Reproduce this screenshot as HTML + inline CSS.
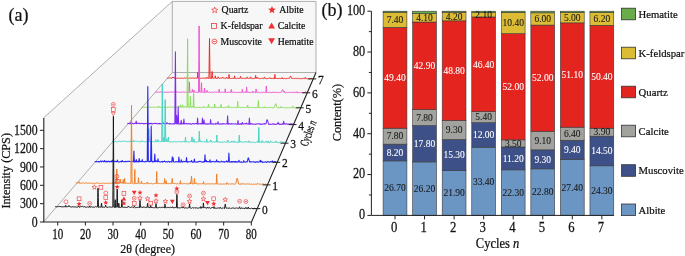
<!DOCTYPE html>
<html><head><meta charset="utf-8"><style>
html,body{margin:0;padding:0;background:#fff;width:685px;height:256px;overflow:hidden}
svg{display:block;will-change:transform} text{stroke:#111;stroke-width:0.22px} text[fill="#ffffff"]{stroke:#fff;stroke-width:0.1px} .bl text{stroke-width:0.08px}
</style></head><body><svg width="685" height="256" viewBox="0 0 685 256"><polygon points="43.5,118 172.3,1.4 316,1.4 316,72.5 251.5,221.9 43.5,221.9" fill="#f7f7f7"/>
<path d="M43.5,118 L172.3,1.4 H316 V72.5 H172.3 V1.4 M172.3,72.5 L43.8,221.6" fill="none" stroke="#8e8e8e" stroke-width="0.7"/>
<polyline points="167.00,78.08 167.55,78.31 168.10,78.11 168.65,77.95 169.20,78.17 169.75,77.91 170.30,77.91 170.85,78.21 171.40,78.36 171.95,78.19 172.50,76.92 173.05,77.90 173.60,77.03 174.15,78.09 174.70,78.14 175.25,78.13 175.80,78.11 176.35,78.38 176.90,78.30 177.45,78.04 178.00,78.03 178.55,78.27 179.10,78.31 179.65,78.37 180.20,77.90 180.75,78.35 181.30,78.39 181.85,77.94 182.40,78.29 182.95,77.95 183.50,78.39 184.05,77.97 184.60,77.96 185.15,78.31 185.70,78.19 186.25,78.01 186.80,77.98 187.35,77.98 187.90,78.03 188.45,78.41 189.00,78.08 189.55,78.03 190.10,78.36 190.65,77.98 191.20,78.04 191.75,78.32 192.30,78.09 192.85,77.98 193.40,78.06 193.95,78.13 194.50,78.42 195.05,78.23 195.60,78.04 196.15,78.40 196.70,78.08 197.25,78.32 197.35,78.05 197.58,75.14 197.80,72.21 198.03,75.27 198.25,78.08 198.35,78.09 198.90,78.26 199.45,78.05 200.00,78.00 200.55,78.24 201.10,78.27 201.65,78.43 202.20,77.98 202.75,78.20 203.30,78.06 203.85,78.26 204.40,78.16 204.95,78.47 205.50,78.33 206.05,77.54 206.60,78.44 207.15,77.33 207.70,78.23 208.25,78.15 208.80,78.03 208.95,78.36 209.22,58.71 209.35,49.30 209.50,38.45 209.78,58.71 209.90,67.39 210.05,78.43 210.45,78.31 211.00,78.29 211.55,78.04 211.65,78.50 211.88,74.78 212.10,71.45 212.32,74.78 212.55,78.05 212.65,78.02 213.20,78.25 213.75,78.36 214.30,78.32 214.85,77.34 215.08,76.99 215.30,75.77 215.40,76.32 215.53,77.04 215.75,78.35 215.95,78.23 216.50,78.48 217.05,78.21 217.60,78.18 217.75,78.27 217.97,77.54 218.15,76.94 218.20,76.78 218.42,77.51 218.65,78.23 218.70,78.27 219.25,78.45 219.80,78.26 220.35,78.05 220.90,78.06 221.45,78.32 222.00,77.80 222.55,76.94 223.10,78.16 223.65,78.07 224.20,78.27 224.75,78.38 225.30,78.53 225.85,78.15 226.40,77.17 226.95,78.41 227.50,78.19 228.05,78.41 228.55,78.37 228.60,77.82 228.78,76.32 229.00,74.41 229.15,75.71 229.22,76.32 229.45,78.25 229.70,78.50 230.25,78.54 230.80,78.39 231.35,78.43 231.90,78.39 232.45,78.18 233.00,78.57 233.55,78.35 234.10,78.24 234.15,78.51 234.38,77.05 234.60,75.83 234.65,76.11 234.82,77.06 235.05,78.17 235.20,78.48 235.75,78.16 236.30,78.45 236.85,78.43 237.40,78.34 237.95,78.14 238.50,78.36 239.05,78.46 239.60,78.36 240.05,78.38 240.15,77.85 240.28,77.33 240.50,76.35 240.70,77.24 240.72,77.33 240.95,78.36 241.25,78.12 241.80,78.36 242.35,78.51 242.90,78.36 243.45,78.15 244.00,78.32 244.55,78.58 245.10,78.35 245.65,78.34 246.20,78.57 246.75,78.28 246.97,77.64 247.20,76.88 247.30,77.21 247.42,77.61 247.65,78.29 247.85,78.44 248.40,78.49 248.95,78.39 249.50,78.23 250.05,78.35 250.28,77.62 250.50,76.89 250.60,77.22 250.72,77.62 250.95,78.44 251.15,78.26 251.70,78.55 252.25,78.30 252.80,78.61 253.35,78.65 253.90,78.22 254.45,78.51 255.00,78.20 255.15,78.36 255.38,76.87 255.55,75.74 255.60,75.40 255.82,76.87 256.05,78.41 256.10,78.41 256.65,78.25 257.20,77.16 257.75,78.42 258.30,78.24 258.85,78.27 259.40,78.66 259.95,78.22 260.50,78.65 261.05,78.56 261.60,78.41 262.15,78.39 262.70,78.19 263.25,78.60 263.80,78.41 264.05,78.39 264.27,77.70 264.35,77.43 264.50,76.93 264.73,77.70 264.90,78.22 264.95,78.44 265.45,78.59 266.00,78.65 266.55,78.58 267.10,78.40 267.65,78.64 268.20,78.58 268.75,78.40 269.30,78.24 269.85,77.58 270.40,78.52 270.95,78.32 271.50,78.54 272.05,78.54 272.60,78.48 273.15,78.71 273.70,78.57 274.25,77.59 274.45,78.59 274.67,76.51 274.80,75.36 274.90,74.47 275.12,76.43 275.35,78.48 275.90,78.51 276.45,78.54 277.00,78.27 277.55,78.61 278.10,78.70 278.65,78.47 279.20,78.48 279.75,78.27 280.30,78.45 280.85,78.54 281.40,78.39 281.65,78.52 281.88,77.98 281.95,77.83 282.10,77.50 282.33,78.13 282.50,78.58 282.55,78.27 283.05,78.72 283.60,78.70 284.15,78.49 284.70,78.38 285.25,78.72 285.80,78.49 286.35,78.67 286.90,78.32 287.45,78.49 288.00,78.29 288.55,78.33 289.10,78.60 289.40,78.40 289.65,78.20 290.00,77.27 290.20,76.67 290.60,76.02 290.75,76.13 291.20,77.28 291.30,77.59 291.80,78.56 291.85,78.60 292.40,78.38 292.95,78.77 293.50,78.16 294.05,78.42 294.60,78.60 295.15,78.56 295.70,78.34 296.25,78.57 296.80,78.48 297.35,78.40 297.90,78.67 298.45,78.34 299.00,78.71 299.55,78.69 300.10,78.52 300.65,78.71 301.20,78.64 301.75,78.48 302.30,78.69 302.85,78.53 303.40,78.37 303.95,78.36 304.50,78.60 304.85,78.67 305.05,78.04 305.07,77.99 305.30,77.37 305.53,77.99 305.60,78.07 305.75,78.51 306.15,78.51 306.70,78.68 307.25,78.79 307.80,78.79 308.35,78.74 308.90,78.50 309.45,78.81 310.00,78.47 310.55,78.53 311.10,78.54 311.65,78.44 312.20,78.75 312.60,78.77" fill="none" stroke="#ee2a26" stroke-width="1.0" stroke-linejoin="round"/>
<polyline points="155.00,91.94 155.55,92.29 156.10,91.86 156.65,92.13 157.20,92.34 157.75,92.26 158.30,92.13 158.85,91.90 159.40,92.23 159.95,91.91 160.50,91.94 161.05,92.19 161.60,91.98 162.15,92.13 162.70,92.07 163.25,92.36 163.80,92.13 164.35,92.24 164.90,92.34 165.45,92.30 166.00,92.31 166.55,92.30 167.10,92.37 167.65,92.15 168.20,92.29 168.75,92.11 169.30,92.27 169.85,92.09 170.40,92.00 170.95,92.05 171.50,91.93 172.05,91.96 172.60,92.30 173.15,91.94 173.70,92.20 174.25,91.93 174.80,92.01 175.35,92.03 175.90,92.22 176.45,92.01 177.00,92.01 177.55,92.08 178.10,92.33 178.65,92.06 179.20,92.39 179.75,92.21 180.30,92.17 180.85,91.96 181.40,92.34 181.95,92.20 182.50,92.08 183.05,92.27 183.60,91.95 184.15,92.13 184.70,92.30 185.25,92.03 185.80,92.11 186.35,92.39 186.90,92.27 187.45,92.09 188.00,92.03 188.55,91.96 188.95,92.38 189.10,88.78 189.18,86.95 189.40,81.91 189.62,86.95 189.65,87.64 189.85,92.36 190.20,92.42 190.75,92.38 191.30,92.24 191.85,92.05 191.95,92.13 192.18,90.69 192.40,89.22 192.62,90.69 192.85,92.03 192.95,92.21 193.50,92.39 193.55,91.98 193.78,91.21 194.00,90.23 194.05,90.45 194.22,91.21 194.45,92.29 194.60,92.17 195.15,92.13 195.70,92.18 196.25,92.11 196.80,92.35 197.35,92.46 197.90,92.35 198.45,92.41 198.55,92.06 198.82,59.70 199.00,38.00 199.10,25.95 199.38,59.70 199.55,80.19 199.65,92.20 200.10,92.46 200.65,92.26 201.05,92.39 201.20,89.05 201.28,87.35 201.50,82.65 201.72,87.35 201.75,87.99 201.95,92.18 202.30,92.06 202.85,92.26 203.40,92.42 203.95,92.09 204.05,92.46 204.28,90.12 204.50,88.06 204.72,90.12 204.95,92.37 205.05,92.11 205.60,92.33 206.15,92.06 206.55,92.31 206.70,91.60 206.78,91.25 207.00,90.27 207.22,91.25 207.25,91.38 207.45,92.30 207.80,92.48 208.35,92.43 208.90,92.09 209.45,92.17 210.00,92.15 210.55,92.45 211.10,92.31 211.65,92.05 212.20,92.53 212.75,92.37 213.30,92.38 213.85,92.23 214.40,91.75 214.95,92.28 215.50,92.24 216.05,92.14 216.60,92.18 217.15,92.22 217.70,92.08 218.25,92.13 218.65,92.36 218.80,91.28 218.88,90.73 219.10,89.21 219.32,90.73 219.35,90.93 219.55,92.28 219.90,92.52 220.45,92.33 221.00,92.52 221.55,92.10 222.10,92.52 222.65,92.37 223.20,92.23 223.75,92.11 224.30,92.30 224.75,92.28 224.85,91.55 224.97,90.62 225.20,88.83 225.40,90.39 225.42,90.54 225.65,92.52 225.95,92.49 226.50,92.46 227.05,92.54 227.60,92.49 228.15,92.36 228.70,92.09 229.25,92.24 229.80,92.13 230.35,92.51 230.90,92.28 230.95,90.72 231.18,90.82 231.40,89.35 231.45,89.69 231.62,90.82 231.85,92.55 232.00,92.52 232.55,92.34 233.10,92.55 233.65,92.21 234.20,92.21 234.75,92.14 235.30,92.48 235.85,92.57 236.40,92.47 236.95,92.47 237.50,92.34 238.05,92.24 238.60,92.48 239.15,92.22 239.70,92.46 240.25,92.32 240.80,92.58 241.35,92.25 241.85,92.60 241.90,91.94 242.08,90.85 242.30,89.39 242.45,90.39 242.53,90.92 242.75,92.26 243.00,92.18 243.55,92.52 244.10,92.28 244.65,92.24 245.20,91.68 245.75,92.52 246.15,92.62 246.30,90.57 246.38,89.59 246.60,86.90 246.82,89.59 246.85,89.96 247.05,92.41 247.40,92.24 247.95,92.24 248.50,92.28 249.05,92.55 249.60,92.56 250.15,92.41 250.70,92.46 251.25,92.18 251.80,92.53 252.35,92.61 252.90,91.25 253.45,92.39 254.00,92.31 254.55,92.21 255.10,92.46 255.65,92.58 255.88,90.64 256.10,88.93 256.20,89.71 256.33,90.72 256.55,92.23 256.75,92.27 257.30,92.27 257.85,92.60 258.40,92.22 258.95,92.37 259.50,92.68 260.05,92.44 260.60,92.69 261.15,92.43 261.70,92.22 262.25,92.65 262.80,92.40 263.35,92.42 263.90,92.23 264.45,92.59 265.00,92.33 265.55,92.49 265.85,92.45 266.07,89.29 266.10,88.86 266.30,85.97 266.53,89.29 266.65,91.02 266.75,92.65 267.20,92.66 267.75,92.42 268.30,92.41 268.85,92.33 269.40,92.32 269.95,92.31 270.50,92.34 271.05,92.39 271.60,92.73 272.15,92.67 272.70,92.43 273.25,92.59 273.80,91.70 274.35,92.37 274.90,92.71 275.45,92.38 276.00,92.33 276.55,92.43 277.10,92.61 277.65,92.26 278.20,92.45 278.75,92.70 279.30,92.65 279.85,92.29 280.40,92.38 280.95,92.34 281.20,92.28 281.50,92.17 281.95,91.02 282.05,90.72 282.60,89.56 282.70,89.52 283.15,90.17 283.45,91.02 283.70,91.75 284.20,92.45 284.25,91.17 284.80,92.56 285.35,92.77 285.90,92.62 286.45,92.39 287.00,92.62 287.55,92.72 288.10,92.60 288.65,92.50 289.20,92.32 289.75,92.46 290.30,92.44 290.85,92.50 291.40,92.38 291.95,92.42 292.50,92.47 293.05,92.38 293.60,92.66 294.15,91.77 294.70,92.49 295.25,92.51 295.80,92.56 296.35,92.55 296.90,91.60 297.45,92.77 298.00,92.45 298.55,92.42 299.10,92.63 299.65,92.51 300.20,92.80 300.75,92.64 301.30,92.54 301.85,92.47 302.40,92.78 302.95,92.16 303.50,92.59 304.05,92.52 304.60,92.42 305.15,92.46 305.70,91.42 306.25,92.55 306.70,92.60" fill="none" stroke="#ee55cf" stroke-width="1.0" stroke-linejoin="round"/>
<polyline points="141.30,107.22 141.85,107.23 142.40,107.44 142.95,107.13 143.50,107.11 144.05,107.31 144.60,107.44 145.15,107.04 145.70,107.21 146.25,107.15 146.80,107.34 147.35,107.09 147.90,107.13 148.45,107.23 149.00,107.01 149.55,107.03 150.10,107.03 150.65,107.37 151.20,107.06 151.75,107.42 152.30,107.11 152.85,107.38 153.40,107.35 153.95,107.35 154.50,107.16 155.05,107.41 155.60,107.28 156.15,107.35 156.70,107.41 157.25,107.06 157.80,107.34 158.35,106.01 158.90,107.48 159.45,107.07 160.00,107.22 160.55,107.21 161.10,107.51 161.65,107.37 162.20,107.04 162.75,107.38 163.30,107.08 163.85,107.03 164.40,107.26 164.95,107.18 165.50,107.45 166.05,107.22 166.60,107.41 167.15,107.23 167.70,107.31 168.25,107.11 168.80,107.09 169.35,107.16 169.90,107.10 170.45,107.05 171.00,107.12 171.55,107.18 172.10,107.29 172.65,107.18 173.20,107.08 173.75,107.21 174.30,107.15 174.85,107.55 175.40,107.49 175.95,107.27 176.50,107.26 177.05,107.34 177.60,107.38 177.85,107.53 178.08,106.55 178.15,106.32 178.30,105.82 178.53,106.58 178.70,107.08 178.75,107.22 179.25,107.07 179.80,106.52 180.05,107.48 180.28,106.05 180.35,105.66 180.50,104.82 180.72,106.05 180.90,107.00 180.95,107.20 181.45,107.09 182.00,107.19 182.15,107.26 182.38,106.05 182.55,105.11 182.60,104.83 182.82,106.05 183.05,107.25 183.10,107.19 183.65,107.36 184.20,107.17 184.75,107.16 185.30,106.30 185.85,107.29 186.40,107.36 186.95,107.20 187.05,107.25 187.32,73.67 187.50,51.22 187.60,38.75 187.88,73.67 188.05,94.87 188.15,107.57 188.60,107.19 189.15,107.60 189.70,107.42 189.95,107.43 190.18,101.83 190.25,100.15 190.40,96.55 190.62,101.84 190.80,106.16 190.85,107.44 191.35,107.30 191.90,107.41 192.45,106.24 193.00,107.34 193.15,107.41 193.38,100.21 193.55,94.92 193.60,93.36 193.82,100.21 194.05,107.55 194.10,107.61 194.65,107.24 195.20,107.44 195.75,107.54 196.30,107.38 196.85,107.16 197.40,107.48 197.95,107.53 198.50,107.40 199.05,107.23 199.60,107.46 200.15,107.41 200.70,107.38 201.25,107.54 201.80,107.53 202.35,107.60 202.90,107.22 203.45,106.35 204.00,107.58 204.55,107.21 205.10,107.35 205.65,107.46 206.20,107.19 206.75,107.26 207.30,107.60 207.85,107.26 208.05,106.54 208.28,105.88 208.40,105.08 208.50,104.41 208.72,105.88 208.95,107.40 209.50,107.22 210.05,107.47 210.60,107.27 211.15,107.52 211.70,107.35 212.25,107.38 212.80,107.49 213.35,107.59 213.90,107.41 214.25,107.65 214.45,105.87 214.47,105.72 214.70,103.93 214.92,105.64 215.00,106.27 215.15,107.38 215.55,107.48 216.10,107.22 216.65,107.33 217.20,107.67 217.75,107.54 218.30,107.31 218.85,107.26 219.40,107.32 219.95,107.37 220.50,107.62 220.65,107.47 220.88,105.92 221.05,104.78 221.10,104.45 221.32,105.92 221.55,106.54 221.60,107.44 222.15,107.44 222.70,107.54 223.25,107.69 223.80,107.71 224.35,107.63 224.90,107.56 225.45,107.25 226.00,107.42 226.55,107.33 227.10,107.33 227.65,107.29 227.95,107.59 228.18,106.45 228.20,106.36 228.40,105.47 228.62,106.45 228.75,106.84 228.85,107.23 229.30,107.70 229.85,107.24 230.40,107.50 230.95,107.29 231.50,107.38 232.05,107.30 232.60,107.30 233.15,107.50 233.70,107.63 234.25,107.45 234.80,107.35 235.35,107.53 235.90,107.67 236.45,107.67 237.00,107.74 237.25,107.46 237.47,104.57 237.55,103.50 237.70,101.50 237.92,104.44 238.10,106.84 238.15,107.41 238.65,107.58 239.20,107.28 239.75,107.30 240.30,107.32 240.85,107.43 241.40,107.59 241.95,107.74 242.50,107.52 243.05,107.47 243.60,107.64 244.15,107.46 244.70,107.51 245.25,107.49 245.80,107.30 246.35,107.31 246.90,107.56 247.15,107.39 247.38,106.26 247.45,105.87 247.60,105.03 247.82,106.26 248.00,106.40 248.05,107.77 248.55,107.59 249.10,107.44 249.65,107.59 250.20,107.54 250.75,107.67 251.30,107.34 251.85,107.43 252.40,107.51 252.95,107.50 253.50,107.64 254.05,107.80 254.60,107.47 255.15,107.72 255.70,107.63 256.25,107.69 256.80,107.63 257.35,107.78 257.90,107.33 257.95,107.69 258.17,104.15 258.40,100.57 258.45,101.35 258.62,103.99 258.85,107.54 259.00,107.51 259.55,107.54 260.10,107.48 260.65,107.36 261.20,107.74 261.75,107.60 262.30,107.39 262.85,107.81 263.40,107.80 263.85,107.54 263.95,107.53 264.07,107.28 264.30,106.59 264.50,107.03 264.53,107.31 264.75,107.68 265.05,107.73 265.60,107.71 266.15,107.64 266.70,107.52 267.25,107.52 267.80,107.61 268.35,107.64 268.90,107.53 269.45,107.59 270.00,107.52 270.55,107.47 271.10,107.72 271.65,107.49 272.20,107.77 272.75,107.72 273.30,107.67 273.85,107.86 274.30,107.60 274.40,107.43 274.95,105.83 275.00,105.62 275.50,103.84 275.70,103.62 276.05,104.25 276.40,105.63 276.60,106.46 277.10,107.48 277.15,107.68 277.70,107.76 278.25,107.83 278.80,107.73 279.35,107.86 279.90,107.53 280.45,107.75 281.00,106.48 281.55,107.52 282.10,107.52 282.65,107.64 283.20,107.54 283.75,107.65 284.30,107.48 284.85,107.83 285.40,107.68 285.95,107.67 286.50,107.87 287.05,107.54 287.60,107.88 288.15,107.81 288.70,107.64 289.25,107.78 289.80,107.67 290.35,107.59 290.90,107.90 291.45,107.89 292.00,107.46 292.15,107.48 292.38,107.16 292.55,106.79 292.60,106.68 292.83,105.90 293.05,107.92 293.10,107.86 293.65,107.69 294.20,107.70 294.75,107.70 295.30,107.68 295.85,107.79 296.40,107.68 296.95,107.68 297.50,107.93 298.05,107.51 298.60,107.61 299.15,107.92 299.70,107.92 300.00,107.88" fill="none" stroke="#86dd58" stroke-width="1.0" stroke-linejoin="round"/>
<polyline points="127.40,123.12 127.95,123.57 128.50,123.59 129.05,123.85 129.60,123.52 130.15,123.14 130.70,123.81 131.25,121.81 131.80,123.67 132.35,123.58 132.90,123.20 133.45,123.76 134.00,123.79 134.55,123.40 135.10,123.14 135.65,123.34 135.75,123.56 135.97,122.31 136.20,121.04 136.42,122.26 136.65,123.34 136.75,123.77 137.30,123.33 137.85,123.35 138.40,123.35 138.95,123.30 139.50,123.39 140.05,123.73 140.60,123.79 141.15,123.22 141.70,123.36 142.25,123.49 142.80,123.46 143.35,123.90 143.90,123.48 144.45,123.80 145.00,123.44 145.55,123.48 146.10,123.65 146.65,123.56 147.20,123.19 147.75,123.49 148.30,123.92 148.85,123.35 149.40,123.96 149.95,123.47 150.50,123.31 151.05,123.96 151.60,123.31 152.15,123.91 152.70,123.97 153.25,123.51 153.80,123.43 154.35,123.27 154.90,123.49 155.45,123.46 156.00,123.32 156.55,123.65 157.10,123.83 157.65,123.98 158.20,123.41 158.75,123.48 159.30,123.97 159.85,123.36 160.40,123.69 160.95,123.87 161.50,123.61 162.05,123.92 162.60,123.40 163.15,122.77 163.70,123.57 164.25,123.38 164.80,123.85 165.35,123.27 165.90,123.90 166.45,123.79 167.00,122.61 167.55,123.30 168.10,123.77 168.65,123.65 169.20,123.53 169.75,123.98 170.30,123.61 170.85,123.65 171.40,124.02 171.95,124.04 172.50,123.99 173.05,123.70 173.60,123.52 174.15,123.87 174.70,123.77 174.85,124.06 175.12,88.35 175.25,71.34 175.40,51.70 175.68,88.36 175.80,104.07 175.95,123.52 176.25,123.81 176.35,121.88 176.47,119.70 176.70,115.51 176.90,119.15 176.92,119.52 177.15,123.97 177.45,123.51 177.75,123.71 177.97,115.60 178.00,114.49 178.20,107.11 178.42,115.23 178.55,120.03 178.65,123.98 179.10,124.10 179.65,123.87 180.20,123.89 180.75,123.96 180.97,122.06 181.20,120.33 181.30,121.08 181.42,121.99 181.65,123.82 181.85,124.07 182.40,123.38 182.95,123.42 183.45,124.03 183.50,123.21 183.68,121.33 183.90,119.04 184.05,120.60 184.12,121.34 184.35,123.97 184.60,123.80 185.15,123.85 185.70,123.65 186.25,123.36 186.80,123.99 187.35,123.87 187.90,123.91 188.45,123.61 189.00,123.51 189.55,123.91 190.10,123.63 190.65,124.09 191.20,124.13 191.75,124.14 192.30,123.64 192.85,123.79 193.40,123.40 193.95,123.81 194.50,123.98 195.05,123.54 195.60,123.58 196.15,123.44 196.70,123.67 197.15,124.15 197.25,122.53 197.38,120.88 197.60,118.09 197.80,120.63 197.82,120.88 198.05,123.91 198.35,124.12 198.90,123.83 199.45,123.82 200.00,124.02 200.55,123.53 201.10,123.63 201.65,123.99 201.95,124.03 202.18,120.90 202.20,120.65 202.40,118.11 202.62,120.90 202.75,122.55 202.85,123.97 203.30,123.52 203.55,123.88 203.78,121.72 203.85,121.09 204.00,119.72 204.22,121.73 204.40,122.77 204.45,123.74 204.95,123.51 205.50,124.11 206.05,123.90 206.60,124.22 207.15,123.68 207.70,124.13 208.25,123.77 208.80,124.15 209.35,124.08 209.90,123.80 210.15,123.80 210.38,121.60 210.45,120.91 210.60,119.45 210.82,121.60 211.00,123.33 211.05,124.17 211.55,124.08 212.10,123.99 212.65,123.69 213.20,124.22 213.75,124.00 214.30,123.99 214.85,124.08 215.40,124.25 215.95,123.12 216.50,124.09 217.05,123.97 217.60,123.80 217.65,123.64 217.88,122.75 218.10,121.68 218.15,121.92 218.32,122.76 218.55,124.08 218.70,123.68 219.25,123.93 219.80,124.28 220.35,124.11 220.90,124.07 221.45,123.71 222.00,123.92 222.55,123.63 223.10,124.22 223.65,123.73 224.20,123.84 224.75,123.99 225.30,123.93 225.85,123.97 226.40,123.80 226.95,123.58 227.15,124.07 227.38,119.73 227.50,117.54 227.60,115.72 227.82,119.73 228.05,123.77 228.60,124.27 229.15,123.67 229.70,123.60 230.25,124.12 230.80,123.92 231.35,123.56 231.90,124.23 232.45,124.10 233.00,123.81 233.55,123.72 234.10,123.80 234.65,124.20 235.20,124.04 235.75,123.73 236.30,124.05 236.85,124.33 237.40,123.91 237.55,124.22 237.78,122.17 237.95,120.85 238.00,120.46 238.22,122.18 238.45,123.86 238.50,124.14 239.05,124.12 239.60,124.24 240.15,124.04 240.70,123.61 241.25,124.36 241.80,124.27 242.35,122.47 242.90,123.73 243.45,124.12 244.00,123.85 244.55,123.82 245.10,123.88 245.65,123.79 246.20,123.00 246.75,124.07 247.30,123.69 247.85,123.98 248.40,123.86 248.95,124.21 249.18,120.94 249.40,118.01 249.50,119.35 249.62,120.95 249.85,124.04 250.05,124.33 250.60,123.63 251.15,123.64 251.70,124.12 252.25,123.78 252.80,124.29 253.35,124.18 253.90,123.99 254.45,124.07 255.00,124.43 255.55,124.31 256.10,123.84 256.65,124.08 257.20,123.89 257.75,124.06 258.30,123.71 258.85,123.66 259.40,123.96 259.95,123.74 260.50,124.41 261.05,124.27 261.60,124.13 262.15,124.04 262.70,124.21 263.25,124.03 263.80,123.94 264.35,123.46 264.90,124.20 265.45,123.74 265.70,123.95 266.00,123.67 266.45,121.88 266.55,121.45 267.10,119.74 267.20,119.69 267.65,120.64 267.95,121.89 268.20,122.95 268.70,123.95 268.75,124.35 269.30,124.20 269.85,124.45 270.40,124.15 270.95,124.36 271.50,124.28 272.05,124.10 272.60,123.90 273.15,124.44 273.70,123.77 274.25,123.91 274.80,124.39 275.35,124.50 275.90,124.22 276.45,124.30 277.00,123.77 277.55,124.04 278.10,122.29 278.65,124.03 279.20,123.85 279.75,124.47 280.30,124.14 280.85,124.36 281.40,123.94 281.95,124.33 282.50,123.75 283.05,124.13 283.25,124.25 283.47,122.69 283.60,121.82 283.70,121.16 283.93,122.69 284.15,124.06 284.70,123.80 285.25,124.24 285.80,123.79 286.35,124.00 286.90,123.86 287.45,124.28 288.00,123.91 288.55,124.08 289.10,124.23 289.65,124.09 290.20,123.81 290.75,123.94 291.30,123.79 291.85,124.26 292.40,124.23 292.95,123.90 293.50,124.36 294.05,124.36 294.40,123.83" fill="none" stroke="#7d2cf2" stroke-width="1.05" stroke-linejoin="round"/>
<polyline points="112.00,141.25 112.55,141.60 113.10,141.70 113.65,141.33 114.20,141.60 114.75,141.75 115.30,141.68 115.85,141.50 116.40,141.70 116.95,141.70 117.50,141.67 118.05,141.76 118.60,141.37 119.15,141.18 119.70,141.14 120.25,141.29 120.80,141.53 121.35,141.42 121.90,141.80 122.45,141.37 123.00,141.25 123.55,141.26 124.10,140.86 124.65,141.12 125.20,141.32 125.75,141.58 126.30,141.63 126.85,141.47 127.40,141.74 127.95,141.44 128.50,141.42 129.05,141.67 129.60,141.63 130.15,141.70 130.70,141.30 131.25,140.36 131.80,141.29 132.35,141.57 132.90,141.85 133.45,140.28 134.00,141.75 134.55,141.56 135.10,141.44 135.65,140.91 136.20,141.21 136.75,141.24 137.30,141.29 137.85,141.78 138.40,141.29 138.95,141.72 139.50,141.60 140.05,141.82 140.60,141.90 141.15,141.76 141.70,140.57 142.25,141.41 142.80,141.58 143.35,141.27 143.90,141.66 144.45,141.93 145.00,141.44 145.55,141.60 146.10,141.52 146.65,141.59 147.20,141.59 147.75,141.96 148.30,141.54 148.35,141.73 148.58,134.97 148.80,128.61 148.85,130.06 149.03,135.26 149.25,140.03 149.40,141.60 149.95,141.36 150.50,141.80 151.05,141.75 151.60,141.59 152.15,141.32 152.70,141.52 153.25,141.83 153.80,141.32 154.35,141.62 154.90,141.85 155.45,141.33 155.68,140.63 155.90,139.65 156.00,140.10 156.12,140.63 156.35,141.74 156.55,141.81 157.10,141.87 157.55,141.67 157.65,141.25 157.78,140.64 158.00,139.67 158.20,140.56 158.22,140.64 158.45,141.61 158.75,141.83 159.30,141.41 159.85,141.44 160.40,141.68 160.95,141.59 161.50,141.46 161.75,141.76 162.03,112.37 162.05,110.27 162.30,84.09 162.58,113.42 162.60,115.51 162.85,141.63 163.15,141.80 163.38,139.65 163.60,137.70 163.70,138.59 163.82,139.65 164.05,141.57 164.25,141.91 164.65,141.57 164.80,130.22 164.92,121.04 165.20,99.61 165.35,111.09 165.47,120.28 165.75,141.69 165.90,141.56 166.35,141.56 166.45,141.05 166.58,140.18 166.80,138.72 167.00,140.05 167.03,140.25 167.25,141.79 167.55,141.39 167.95,141.62 168.10,140.16 168.18,139.32 168.40,137.03 168.62,139.32 168.65,139.64 168.85,141.67 169.20,142.07 169.75,142.01 170.30,141.92 170.85,141.72 171.40,141.86 171.95,141.77 172.50,141.76 173.05,141.88 173.60,141.96 174.15,141.47 174.70,141.44 175.25,142.09 175.80,141.73 176.35,141.82 176.90,141.97 177.45,142.02 178.00,141.43 178.55,141.50 179.10,141.49 179.65,141.98 180.20,141.91 180.75,141.81 181.30,141.77 181.85,141.93 182.40,141.55 182.95,141.83 183.50,141.46 184.05,142.05 184.60,141.58 185.05,142.16 185.15,140.78 185.28,139.42 185.50,137.12 185.70,139.21 185.72,139.42 185.95,141.57 186.25,141.65 186.80,141.99 187.35,141.79 187.90,141.82 188.45,141.81 189.00,141.99 189.55,141.89 190.10,141.53 190.65,141.18 191.20,141.81 191.55,141.28 191.75,139.64 191.78,139.30 192.00,136.86 192.22,139.31 192.30,140.20 192.45,141.68 192.85,142.07 193.40,141.65 193.45,142.06 193.68,140.34 193.90,138.87 193.95,139.21 194.12,140.34 194.35,141.95 194.50,142.18 195.05,142.22 195.60,142.10 196.15,141.75 196.70,142.13 197.25,141.68 197.80,142.15 198.35,141.58 198.85,141.76 198.90,140.71 199.08,136.43 199.30,131.20 199.45,134.77 199.53,136.67 199.75,141.84 200.00,141.84 200.55,140.59 201.10,141.80 201.65,141.83 202.20,141.61 202.75,141.78 203.30,141.60 203.85,141.59 204.40,141.84 204.95,141.35 205.50,142.14 206.05,141.94 206.25,142.12 206.47,140.48 206.60,139.61 206.70,138.95 206.92,140.41 207.15,141.97 207.70,142.20 208.25,142.13 208.80,142.03 209.35,141.65 209.90,141.88 210.35,141.73 210.45,141.27 210.58,140.95 210.80,139.97 211.00,140.86 211.03,140.99 211.25,142.17 211.55,141.68 212.10,142.14 212.65,142.29 213.20,141.66 213.75,141.87 214.30,142.26 214.85,141.73 215.40,141.84 215.95,141.73 216.35,141.94 216.50,139.70 216.58,138.48 216.80,135.10 217.03,138.63 217.05,138.94 217.25,142.08 217.60,142.35 218.15,141.68 218.70,141.81 219.25,142.26 219.80,141.84 220.35,142.23 220.90,141.86 221.45,142.36 222.00,142.19 222.55,142.21 223.10,142.05 223.65,142.06 224.20,141.92 224.75,141.80 225.30,141.85 225.85,142.38 226.40,142.36 226.95,142.31 227.35,142.11 227.50,141.40 227.58,141.04 227.80,140.07 228.03,141.09 228.05,141.18 228.25,142.19 228.60,142.21 229.15,142.17 229.70,142.36 230.25,142.29 230.80,141.88 231.35,142.22 231.90,140.92 232.45,141.92 233.00,141.90 233.55,142.24 234.10,140.86 234.65,142.18 235.20,142.19 235.75,142.00 236.30,142.23 236.85,142.25 237.40,142.24 237.95,142.34 238.50,142.35 238.85,140.99 239.05,139.02 239.08,138.56 239.30,135.13 239.53,138.71 239.60,139.80 239.75,142.33 240.15,142.11 240.70,141.24 241.25,142.04 241.80,142.08 242.35,142.29 242.90,142.02 243.45,141.90 244.00,142.11 244.55,142.05 245.10,141.95 245.65,141.18 246.20,142.45 246.75,142.17 247.30,142.02 247.85,141.88 248.40,142.04 248.75,142.38 248.95,141.52 248.97,141.46 249.20,140.69 249.42,141.43 249.50,141.89 249.65,142.24 250.05,142.27 250.60,142.53 251.15,142.04 251.70,142.13 252.25,142.33 252.80,142.02 253.35,142.29 253.90,142.33 254.45,142.57 255.00,142.52 255.55,142.46 256.10,142.29 256.65,141.95 257.20,141.98 257.75,140.97 258.30,141.94 258.35,142.47 258.57,135.01 258.80,127.45 258.85,129.09 259.03,135.01 259.25,142.39 259.40,142.44 259.95,142.19 260.50,142.10 261.05,142.53 261.60,142.45 262.15,140.59 262.70,142.45 263.25,142.34 263.80,142.04 264.35,142.36 264.90,142.60 265.45,142.10 266.00,141.05 266.55,142.24 267.10,142.61 267.65,142.53 268.20,140.91 268.75,142.57 269.30,142.45 269.85,142.44 270.05,142.47 270.27,141.58 270.40,141.15 270.50,140.81 270.73,141.58 270.95,142.01 271.50,142.00 272.05,142.22 272.60,142.23 273.15,142.28 273.70,142.44 274.25,142.36 274.80,142.30 275.35,142.18 275.55,142.16 275.77,141.61 275.90,141.18 276.00,140.85 276.23,141.61 276.45,142.34 277.00,142.39 277.55,142.49 278.10,142.04 278.65,142.67 279.20,142.63 279.75,142.71 280.30,142.53 280.85,141.54 281.40,142.09 281.95,142.45 282.50,142.11 283.05,142.13 283.60,142.46 284.15,142.60 284.70,142.14 285.25,142.15 285.30,142.07" fill="none" stroke="#45d3c3" stroke-width="1.0" stroke-linejoin="round"/>
<polyline points="94.70,161.66 95.25,161.49 95.80,161.80 96.35,161.78 96.90,161.37 97.45,161.75 98.00,161.95 98.55,161.45 99.10,161.93 99.65,161.86 100.20,161.31 100.75,161.12 101.30,161.93 101.85,161.20 102.40,161.13 102.95,161.14 103.50,161.81 104.05,161.84 104.15,161.47 104.38,161.02 104.60,160.53 104.82,161.02 105.05,161.19 105.15,161.46 105.70,161.82 106.25,161.86 106.80,161.23 107.35,161.84 107.90,161.67 108.45,161.13 109.00,161.48 109.55,161.94 110.10,161.33 110.65,161.60 111.20,161.93 111.75,160.75 112.30,161.83 112.85,160.16 113.40,161.32 113.95,161.92 114.50,161.36 115.05,161.37 115.60,161.34 116.15,161.72 116.70,161.42 116.95,161.64 117.18,160.80 117.25,160.56 117.40,160.06 117.62,160.80 117.80,161.63 117.85,161.44 118.35,161.86 118.90,162.00 119.45,161.96 120.00,161.64 120.55,161.46 121.10,161.34 121.65,161.90 122.20,160.46 122.75,161.52 123.30,161.62 123.85,161.68 124.40,161.74 124.95,161.63 125.50,161.25 126.05,161.93 126.60,161.40 127.15,161.61 127.70,161.30 128.25,161.22 128.80,161.39 129.35,161.32 129.90,161.62 130.45,161.73 131.00,161.71 131.55,161.70 132.10,161.57 132.65,161.35 133.20,161.68 133.45,161.71 133.68,156.19 133.75,154.54 133.90,151.01 134.12,156.19 134.30,160.43 134.35,162.06 134.85,161.51 135.40,161.18 135.85,161.81 135.95,161.42 136.08,160.59 136.30,159.61 136.50,160.50 136.53,160.64 136.75,161.80 137.05,162.04 137.60,161.32 138.15,161.49 138.70,161.97 138.75,161.81 138.97,160.16 139.20,158.62 139.25,158.96 139.42,160.09 139.65,161.75 139.80,161.32 140.35,161.57 140.90,161.28 141.45,161.60 141.85,161.89 142.00,160.96 142.08,160.61 142.30,159.63 142.53,160.65 142.55,160.74 142.75,161.33 143.10,161.58 143.65,161.73 144.20,161.74 144.75,161.90 145.30,161.40 145.85,161.68 146.40,161.42 146.95,161.59 147.25,161.42 147.50,127.55 147.53,123.46 147.80,86.65 148.05,120.74 148.08,124.83 148.35,161.28 148.60,161.21 149.15,161.94 149.70,161.23 150.25,161.65 150.65,161.22 150.80,151.97 150.92,144.23 151.20,126.16 151.35,135.84 151.47,143.58 151.75,161.42 151.90,161.64 152.45,162.04 153.00,161.39 153.55,161.94 154.10,161.74 154.35,161.43 154.58,157.73 154.65,156.53 154.80,153.97 155.03,157.90 155.20,160.81 155.25,161.68 155.75,161.29 156.30,160.73 156.85,161.71 157.40,161.46 157.55,161.62 157.78,160.24 157.95,159.19 158.00,158.87 158.22,160.24 158.45,161.45 158.50,161.32 159.05,161.68 159.60,161.73 160.15,162.08 160.70,161.97 161.25,161.64 161.80,161.68 162.35,161.35 162.90,162.07 163.45,161.52 164.00,161.56 164.55,160.96 165.10,161.70 165.65,161.90 166.20,161.61 166.75,161.79 167.30,161.87 167.85,161.96 168.40,161.35 168.95,161.48 169.50,162.11 170.05,161.92 170.60,161.83 171.15,161.46 171.70,161.28 171.85,162.13 172.08,159.16 172.25,157.27 172.30,156.71 172.53,159.27 172.65,160.60 172.75,160.83 172.80,160.38 172.88,159.67 173.10,157.72 173.32,159.67 173.35,159.94 173.55,161.85 173.90,162.03 174.45,162.06 175.00,162.02 175.55,161.89 176.10,161.50 176.65,161.87 177.20,161.83 177.75,161.82 178.30,161.50 178.45,161.91 178.68,159.38 178.85,157.64 178.90,157.13 179.12,159.38 179.35,161.94 179.40,161.69 179.95,161.87 180.50,162.03 180.85,161.79 181.05,160.85 181.08,160.72 181.30,159.74 181.53,160.76 181.60,161.07 181.75,161.35 182.15,162.14 182.70,162.03 183.25,161.45 183.80,161.38 184.35,161.74 184.90,161.56 185.45,161.43 186.00,161.35 186.05,161.83 186.28,159.61 186.50,157.55 186.55,158.02 186.72,159.61 186.95,161.84 187.10,161.92 187.65,162.16 188.20,161.49 188.75,161.87 189.30,161.81 189.85,161.74 190.40,161.63 190.95,161.45 191.50,160.40 192.05,161.98 192.60,162.13 193.15,161.91 193.70,162.13 193.95,162.08 194.18,160.34 194.25,159.91 194.40,158.97 194.62,160.34 194.80,161.34 194.85,161.69 195.35,162.04 195.90,161.97 196.45,162.21 197.00,161.97 197.55,162.16 198.10,161.71 198.65,161.40 199.20,161.63 199.75,161.35 200.30,161.41 200.85,161.78 201.40,161.91 201.95,161.94 202.50,161.90 203.05,162.21 203.60,161.59 204.15,162.21 204.55,161.57 204.70,159.47 204.78,158.22 205.00,154.80 205.22,158.23 205.25,158.69 205.45,161.51 205.80,161.52 206.35,160.44 206.90,162.04 207.45,161.44 208.00,161.43 208.55,161.80 209.10,162.07 209.55,161.84 209.65,160.95 209.78,160.79 210.00,159.82 210.20,160.71 210.22,160.80 210.45,162.21 210.75,161.86 211.30,161.91 211.85,161.53 212.40,161.77 212.95,161.41 213.50,161.48 214.05,161.81 214.60,162.08 215.15,161.64 215.70,161.38 216.15,161.42 216.25,161.73 216.38,160.81 216.60,159.84 216.80,160.72 216.82,160.81 217.05,161.70 217.35,161.57 217.90,161.77 218.45,161.44 219.00,162.04 219.55,161.82 220.10,161.94 220.65,162.09 221.20,161.75 221.75,161.11 222.30,161.65 222.85,162.06 223.40,161.86 223.95,161.48 224.50,162.24 225.05,161.85 225.60,161.78 226.15,161.59 226.70,160.76 227.25,162.16 227.80,161.58 228.35,161.58 228.45,161.83 228.68,157.37 228.90,153.07 229.12,157.37 229.35,161.65 229.45,161.80 230.00,162.26 230.55,161.84 231.10,162.09 231.65,161.49 232.20,162.10 232.75,161.53 233.30,161.59 233.85,161.99 234.40,161.50 234.95,162.10 235.50,161.47 236.05,162.21 236.60,161.65 237.15,162.19 237.70,162.07 238.25,161.45 238.55,161.73 238.78,161.13 238.80,161.06 239.00,160.40 239.22,161.13 239.35,161.93 239.45,161.52 239.90,162.03 240.45,162.13 241.00,162.33 241.55,161.86 242.10,162.16 242.65,162.30 243.20,162.27 243.75,160.67 244.30,162.02 244.85,161.97 245.40,162.15 245.95,162.07 246.50,161.66 247.05,161.80 247.10,161.97 247.60,160.42 247.70,159.92 248.15,158.09 248.30,157.92 248.70,158.96 248.90,159.92 249.25,159.97 249.50,162.02 249.80,161.54 250.35,161.95 250.90,161.68 251.45,161.92 252.00,162.01 252.55,161.73 253.10,161.72 253.65,161.67 254.20,162.15 254.75,161.97 255.30,162.38 255.85,161.82 256.40,162.06 256.95,161.66 257.50,162.08 258.05,162.33 258.60,161.98 259.15,161.79 259.70,161.60 260.25,160.29 260.35,161.85 260.57,161.22 260.80,160.46 261.03,161.22 261.25,161.81 261.35,161.58 261.90,161.59 262.45,162.36 263.00,161.99 263.55,162.21 264.10,162.22 264.65,162.03 265.20,161.65 265.75,161.91 266.30,162.38 266.85,162.21 267.40,161.62 267.95,161.72 268.50,162.05 269.05,161.84 269.60,162.16 270.15,162.07 270.70,161.60 271.25,161.85 271.80,162.10 272.35,160.94 272.90,161.60 273.45,162.00 274.00,161.73 274.55,161.83 275.10,161.59 275.65,161.95 276.20,161.81 276.50,161.64" fill="none" stroke="#2b2bef" stroke-width="1.1" stroke-linejoin="round"/>
<polyline points="75.80,182.93 76.35,182.85 76.90,183.38 77.45,182.92 78.00,183.20 78.55,182.95 79.10,181.77 79.65,183.34 80.20,183.34 80.75,183.01 81.30,183.20 81.85,183.17 82.40,182.98 82.95,182.88 83.50,182.90 84.05,183.42 84.60,183.43 85.15,182.86 85.70,183.07 86.25,182.90 86.80,182.87 87.35,183.16 87.90,183.42 88.45,183.17 89.00,183.09 89.55,183.35 90.10,183.33 90.65,182.99 91.20,182.96 91.75,183.04 92.30,183.38 92.85,183.44 93.40,183.32 93.95,183.32 94.50,183.26 95.05,183.24 95.60,183.48 96.15,183.03 96.70,183.11 97.25,182.60 97.80,183.30 98.35,183.34 98.90,183.00 99.45,183.52 100.00,183.31 100.55,183.31 101.10,183.25 101.65,183.47 102.20,183.44 102.75,183.44 103.30,183.00 103.85,183.10 104.40,183.52 104.95,183.26 105.50,183.40 106.05,183.51 106.60,183.03 107.15,183.15 107.70,183.44 108.25,183.17 108.80,183.46 109.35,183.05 109.90,183.44 110.45,183.43 111.00,183.06 111.55,183.16 112.10,183.20 112.65,183.06 113.20,183.50 113.75,183.33 114.30,183.24 114.85,182.14 115.40,183.49 115.95,183.24 116.35,183.60 116.50,178.57 116.58,176.03 116.80,169.04 117.02,176.03 117.05,176.98 117.25,183.16 117.60,183.47 118.15,183.10 118.70,183.30 119.25,183.15 119.80,183.44 119.85,183.43 120.08,181.16 120.30,179.06 120.35,179.53 120.52,181.16 120.75,183.14 120.90,183.11 121.45,183.20 122.00,181.89 122.55,183.14 122.75,183.38 122.98,181.43 123.10,180.42 123.20,179.57 123.42,181.43 123.65,183.35 124.15,183.47 124.20,182.82 124.38,180.82 124.60,178.38 124.75,180.05 124.82,180.83 125.05,183.57 125.30,183.43 125.85,183.33 126.40,183.14 126.95,183.25 127.50,183.30 128.05,183.45 128.60,183.25 129.15,183.22 129.70,183.52 130.25,183.19 130.80,183.30 130.95,183.62 131.22,145.03 131.35,126.55 131.50,105.22 131.78,145.03 131.90,162.10 132.05,183.23 132.45,183.19 133.00,183.26 133.55,183.73 134.10,183.58 134.35,183.72 134.58,176.28 134.65,174.10 134.80,169.44 135.03,176.60 135.20,181.89 135.25,182.80 135.75,183.72 136.30,183.59 136.85,183.16 137.40,183.33 137.95,183.48 138.05,183.47 138.28,180.49 138.50,177.66 138.72,180.50 138.95,183.19 139.05,183.16 139.60,183.66 140.15,183.21 140.70,183.64 141.05,183.23 141.25,182.41 141.28,182.25 141.50,181.08 141.72,182.25 141.80,182.68 141.95,183.73 142.35,183.29 142.90,183.72 143.45,183.72 144.00,183.41 144.55,183.63 145.10,183.43 145.65,183.69 146.20,183.77 146.75,183.55 147.30,181.95 147.85,183.68 148.40,183.42 148.95,183.71 149.50,183.66 150.05,183.50 150.60,183.61 151.15,183.35 151.70,183.41 152.25,183.69 152.80,183.79 153.35,183.83 153.90,183.69 154.45,183.50 155.00,183.32 155.55,183.48 156.10,183.31 156.25,183.46 156.47,177.70 156.65,172.90 156.70,171.56 156.92,177.43 157.15,183.51 157.20,183.30 157.75,183.75 158.30,183.47 158.85,183.45 159.40,183.34 159.95,183.71 160.50,183.72 161.05,183.66 161.60,183.48 162.15,183.66 162.70,183.32 163.25,183.82 163.80,183.43 164.15,183.45 164.35,181.39 164.38,181.05 164.60,178.61 164.82,181.06 164.90,181.95 165.05,183.88 165.45,183.69 165.65,183.37 165.88,182.08 166.00,181.29 166.10,180.62 166.32,182.09 166.55,183.87 167.10,183.80 167.65,183.54 168.20,183.51 168.75,183.69 169.30,183.35 169.85,183.93 170.40,183.51 170.95,183.70 171.50,183.64 171.75,183.59 171.97,181.11 172.05,180.19 172.20,178.45 172.42,181.00 172.60,183.08 172.65,183.48 173.15,183.37 173.70,183.38 174.25,183.44 174.80,183.65 175.35,183.42 175.90,183.95 176.45,183.93 177.00,183.50 177.55,183.39 178.10,183.78 178.65,183.95 179.20,183.58 179.75,183.96 179.95,183.98 180.18,182.17 180.30,181.37 180.40,180.70 180.62,182.17 180.85,183.93 181.40,183.70 181.95,183.86 182.50,183.83 183.05,183.42 183.60,183.68 184.15,183.43 184.70,183.61 185.25,183.82 185.80,183.82 186.35,183.50 186.90,183.68 187.45,183.88 188.00,183.97 188.55,183.89 189.10,183.76 189.65,183.97 190.20,182.34 190.75,183.95 190.80,183.97 191.15,179.96 191.30,178.34 191.50,176.16 191.85,179.97 192.20,184.04 192.40,183.89 192.95,184.02 193.50,183.72 193.95,183.99 194.05,182.62 194.18,181.12 194.40,178.58 194.60,180.89 194.62,181.13 194.85,183.78 195.15,183.51 195.70,183.63 196.25,182.63 196.80,183.73 197.35,184.01 197.90,183.95 198.45,183.96 199.00,183.55 199.55,183.77 200.10,183.85 200.65,183.76 201.20,184.02 201.75,183.64 202.30,183.69 202.85,183.76 203.15,184.11 203.38,182.66 203.40,182.56 203.60,181.53 203.82,182.66 203.95,183.33 204.05,183.79 204.50,184.00 205.05,183.76 205.60,184.12 206.15,183.82 206.70,184.02 207.25,183.86 207.80,183.78 208.35,183.80 208.90,183.85 209.45,183.89 210.00,183.68 210.55,183.88 211.10,183.87 211.65,183.99 212.20,183.61 212.75,183.74 213.30,183.87 213.85,184.17 214.40,183.97 214.95,183.67 215.50,183.72 216.05,183.96 216.25,184.13 216.47,179.02 216.60,176.13 216.70,173.91 216.92,178.80 217.15,183.83 217.70,183.95 218.25,184.17 218.80,183.67 219.35,184.17 219.90,184.12 220.45,183.94 221.00,183.73 221.55,184.14 222.10,184.23 222.65,183.97 223.20,183.90 223.75,184.15 224.30,184.19 224.85,183.87 225.40,183.91 225.95,183.97 226.50,184.22 226.55,183.95 226.78,183.20 227.00,182.47 227.05,182.64 227.22,183.20 227.45,183.82 227.60,184.01 228.15,184.06 228.70,184.14 229.25,183.94 229.80,183.81 230.35,184.24 230.90,183.73 231.45,183.83 232.00,184.07 232.55,183.81 233.10,184.03 233.65,184.01 234.20,184.18 234.75,184.14 235.30,184.00 235.60,183.79 235.85,183.61 236.40,181.12 236.95,178.61 237.20,178.23 237.50,178.76 238.00,181.13 238.05,181.40 238.60,184.04 238.80,184.08 239.15,184.30 239.70,184.16 240.25,184.06 240.80,184.32 241.35,183.52 241.90,184.35 242.45,183.78 243.00,183.98 243.55,183.99 244.10,184.05 244.65,183.88 245.20,184.12 245.75,184.22 246.30,183.91 246.85,183.85 247.40,184.04 247.95,183.92 248.50,183.97 249.05,184.16 249.60,184.06 250.15,184.13 250.70,184.32 251.25,183.88 251.80,184.21 252.35,184.38 252.90,184.34 253.45,184.05 254.00,184.33 254.55,184.34 255.10,184.08 255.65,184.14 256.20,184.38 256.75,184.38 257.30,183.31 257.85,184.03 258.40,184.08 258.95,184.11 259.50,184.25 260.05,183.98 260.60,184.06 261.15,184.17 261.70,184.46 262.25,184.05 262.80,183.88 263.35,183.90 263.90,184.23 264.45,184.48 265.00,183.90 265.55,184.03 266.10,184.34 266.65,184.43 267.20,184.04" fill="none" stroke="#ef7f26" stroke-width="1.0" stroke-linejoin="round"/>
<polyline points="55.20,206.73 55.75,206.55 56.30,206.81 56.85,206.77 57.40,206.77 57.95,206.34 58.50,206.57 59.05,206.95 59.60,206.44 60.15,207.04 60.70,206.36 61.25,207.06 61.80,206.76 62.35,206.81 62.90,206.84 63.45,206.74 64.00,206.99 64.55,206.62 65.10,207.17 65.25,206.44 65.48,206.02 65.65,205.45 65.70,205.29 65.92,206.02 66.15,206.83 66.20,206.74 66.75,206.85 67.30,206.69 67.85,206.62 68.40,206.62 68.95,205.54 69.50,206.50 70.05,206.68 70.60,206.87 71.15,207.01 71.70,207.18 72.25,206.49 72.80,207.00 73.35,206.97 73.90,206.86 74.45,206.89 75.00,207.14 75.55,206.93 76.10,207.18 76.65,207.17 77.20,206.81 77.75,207.27 78.15,206.92 78.30,206.64 78.38,206.38 78.60,205.90 78.82,206.39 78.85,206.83 79.05,206.59 79.40,207.24 79.95,207.21 80.50,206.63 81.05,207.10 81.60,206.55 82.15,206.68 82.70,206.06 83.25,206.54 83.80,207.25 84.35,206.55 84.90,206.76 85.45,207.17 86.00,206.65 86.55,207.15 87.10,206.87 87.65,206.90 88.20,207.10 88.75,207.21 89.25,207.25 89.30,206.62 89.48,206.48 89.70,205.99 89.85,206.33 89.92,206.48 90.15,207.14 90.40,207.13 90.95,206.98 91.50,206.73 92.05,207.09 92.60,207.21 93.15,207.06 93.70,207.15 94.25,207.26 94.80,206.94 95.35,206.67 95.90,206.66 96.45,206.95 97.00,206.69 97.55,206.73 97.78,197.35 98.00,188.06 98.10,192.28 98.22,197.35 98.45,207.46 98.65,207.28 99.20,207.08 99.75,207.00 100.30,206.88 100.85,207.41 101.05,207.34 101.28,205.04 101.40,203.98 101.50,203.09 101.72,205.05 101.95,207.26 102.50,207.30 103.05,207.24 103.60,207.03 104.15,207.27 104.70,207.33 105.15,206.82 105.25,206.88 105.38,206.10 105.60,205.12 105.80,206.02 105.82,206.10 106.05,206.96 106.35,207.07 106.90,207.53 107.45,207.30 108.00,207.48 108.55,206.87 109.10,206.77 109.65,207.08 110.20,207.26 110.75,206.82 111.30,207.21 111.85,207.24 112.40,207.07 112.85,207.02 112.95,190.68 113.12,162.61 113.40,116.39 113.50,132.90 113.68,162.62 113.95,207.34 114.05,207.55 114.60,207.39 114.75,206.83 114.98,203.37 115.15,200.54 115.20,199.71 115.42,203.37 115.65,207.43 115.70,207.56 116.25,206.98 116.75,207.07 116.80,205.20 116.98,197.92 117.20,189.02 117.35,195.09 117.42,197.92 117.65,207.03 117.90,207.34 118.35,207.41 118.45,206.34 118.58,205.19 118.80,203.24 119.00,205.02 119.02,205.19 119.25,207.60 119.55,207.26 120.10,207.29 120.65,207.53 121.20,207.42 121.45,207.18 121.68,203.43 121.75,202.26 121.90,199.76 122.12,203.43 122.30,206.43 122.35,207.20 122.85,206.98 123.40,207.32 123.95,207.24 124.50,207.27 125.05,207.48 125.60,207.40 126.15,207.55 126.70,207.32 127.25,207.20 127.80,207.27 128.35,206.13 128.90,206.96 129.45,207.07 130.00,207.11 130.55,207.50 131.10,207.34 131.65,206.97 132.20,207.05 132.75,207.19 133.30,207.64 133.85,207.35 133.95,207.11 134.18,206.60 134.40,205.87 134.62,206.60 134.85,207.37 134.95,207.48 135.50,207.69 136.05,207.75 136.60,207.53 137.15,207.15 137.70,207.67 138.25,207.02 138.80,207.11 139.35,207.75 139.55,207.67 139.78,203.83 139.90,201.97 140.00,200.41 140.22,203.84 140.45,207.21 141.00,207.15 141.55,207.12 142.10,207.17 142.65,207.82 143.20,206.68 143.75,207.13 144.30,207.17 144.85,207.17 145.40,207.58 145.95,207.32 146.50,207.51 147.05,207.18 147.28,205.43 147.50,203.48 147.60,204.37 147.72,205.43 147.95,207.10 148.15,207.59 148.70,206.73 149.25,207.55 149.80,207.89 150.15,207.20 150.35,206.61 150.38,206.48 150.60,205.50 150.82,206.48 150.90,206.84 151.05,207.76 151.45,206.99 152.00,207.28 152.55,207.52 153.10,207.90 153.65,207.68 154.20,207.87 154.75,207.54 155.30,207.59 155.55,207.28 155.78,205.50 155.85,204.88 156.00,203.55 156.22,205.51 156.40,206.91 156.45,207.95 156.95,207.73 157.50,207.78 158.05,207.53 158.60,207.69 159.15,207.21 159.70,207.60 160.25,207.87 160.80,207.32 161.35,207.33 161.90,207.59 162.45,207.29 163.00,207.59 163.55,207.35 164.10,207.67 164.55,207.98 164.65,206.84 164.78,205.83 165.00,204.12 165.20,205.68 165.22,205.84 165.45,207.67 165.75,207.43 166.30,207.81 166.85,207.33 167.40,207.27 167.95,207.88 168.50,207.42 169.05,208.03 169.60,207.60 170.15,207.30 170.70,207.33 171.25,207.54 171.80,207.63 172.05,207.55 172.28,207.18 172.35,207.02 172.50,206.69 172.72,207.18 172.90,207.86 172.95,207.73 173.45,207.96 174.00,207.31 174.55,207.97 175.10,207.45 175.65,207.48 176.20,207.87 176.45,207.37 176.68,200.93 176.75,198.86 176.90,194.43 177.12,200.93 177.30,206.25 177.35,207.96 177.85,207.83 178.40,207.84 178.95,208.00 179.50,207.87 180.05,208.13 180.60,207.93 181.15,207.37 181.70,207.42 182.25,207.85 182.65,207.73 182.80,207.06 182.88,207.26 183.10,206.78 183.32,207.27 183.35,207.09 183.55,207.51 183.90,207.78 184.45,208.02 185.00,208.04 185.55,207.90 186.10,207.50 186.65,208.17 187.20,207.95 187.75,208.11 188.30,207.59 188.85,207.98 189.15,207.99 189.38,205.79 189.40,205.61 189.60,203.83 189.82,205.79 189.95,206.95 190.05,207.50 190.50,208.15 191.05,208.01 191.60,208.23 192.15,207.75 192.70,207.67 193.25,207.75 193.80,208.14 194.35,207.62 194.90,208.27 195.45,207.93 196.00,208.06 196.55,207.80 197.10,208.00 197.65,208.13 198.20,208.11 198.75,208.20 199.30,207.80 199.85,207.69 200.40,208.31 200.95,206.49 201.50,207.90 202.05,208.21 202.60,207.65 202.95,207.91 203.15,205.72 203.18,205.39 203.40,202.95 203.62,205.39 203.70,206.28 203.85,207.90 204.25,207.66 204.80,207.57 205.35,207.60 205.90,207.96 206.45,208.14 207.00,208.14 207.05,207.81 207.28,207.47 207.50,206.98 207.55,207.09 207.72,207.47 207.95,208.06 208.10,208.08 208.65,207.82 209.20,207.81 209.75,207.64 210.30,208.34 210.85,208.19 211.40,207.83 211.95,208.03 212.50,207.15 213.05,207.72 213.55,208.06 213.60,208.17 213.78,207.27 214.00,206.54 214.15,207.04 214.22,207.27 214.45,208.38 214.70,208.31 215.25,208.08 215.80,208.30 216.35,208.41 216.90,207.96 217.45,208.01 218.00,208.35 218.55,207.97 219.10,208.21 219.65,208.18 220.20,207.25 220.75,208.25 221.30,208.35 221.85,208.45 222.40,208.20 222.95,207.87 223.50,207.89 224.05,208.44 224.60,208.47 224.80,206.27 225.03,206.09 225.15,205.02 225.25,204.13 225.47,206.09 225.70,206.83 226.25,208.23 226.80,208.30 227.35,207.89 227.90,208.45 228.45,208.19 229.00,207.88 229.55,208.01 230.10,208.53 230.65,207.96 231.20,208.53 231.75,208.03 232.30,207.84 232.85,208.24 233.40,207.99 233.95,208.19 234.50,208.34 235.05,208.55 235.60,207.91 236.15,207.84 236.70,208.03 237.25,207.96 237.80,208.49 238.35,208.24 238.90,208.45 239.15,207.91 239.38,207.48 239.45,207.25 239.60,206.75 239.82,207.49 240.00,208.01 240.05,208.60 240.55,208.57 241.10,208.60 241.65,207.67 242.20,208.39 242.75,208.29 243.30,208.33 243.85,208.34 244.40,208.68 244.95,207.92 245.45,208.23 245.50,208.13 245.68,207.79 245.90,207.31 246.05,207.64 246.12,207.80 246.35,208.65 246.60,208.47 247.15,208.48 247.70,208.57 248.25,206.99 248.80,208.64 249.35,208.47 249.90,208.52 250.45,208.58 251.00,208.33 251.55,208.01 252.10,208.69 252.65,208.55 253.20,208.68 253.75,208.48 254.30,208.36 254.85,208.46 255.40,208.63 255.95,208.34 256.50,208.56 257.00,208.65" fill="none" stroke="#151515" stroke-width="1.0" stroke-linejoin="round"/>
<circle cx="65.9" cy="201.8" r="1.95" fill="none" stroke="#ef3030" stroke-width="0.6"/><rect x="77.20" y="196.90" width="3.8" height="3.8" fill="none" stroke="#ef3030" stroke-width="0.6"/><polygon points="79.10,201.25 79.78,203.07 81.72,203.15 80.20,204.36 80.72,206.22 79.10,205.16 77.48,206.22 78.00,204.36 76.48,203.15 78.42,203.07" fill="#ef3030"/><circle cx="89.7" cy="203.4" r="1.95" fill="none" stroke="#ef3030" stroke-width="0.6"/><path d="M88.73,203.4 h1.95" stroke="#ef3030" stroke-width="0.66"/><polygon points="94.40,184.80 95.02,186.45 96.78,186.53 95.40,187.62 95.87,189.32 94.40,188.35 92.93,189.32 93.40,187.62 92.02,186.53 93.78,186.45" fill="none" stroke="#ef3030" stroke-width="0.6"/><rect x="99.00" y="185.40" width="3.8" height="3.8" fill="none" stroke="#ef3030" stroke-width="0.6"/><circle cx="105.8" cy="193" r="1.95" fill="none" stroke="#ef3030" stroke-width="0.6"/><rect x="103.90" y="195.70" width="3.8" height="3.8" fill="none" stroke="#ef3030" stroke-width="0.6"/><polygon points="105.80,199.85 106.48,201.67 108.42,201.75 106.90,202.96 107.42,204.82 105.80,203.75 104.18,204.82 104.70,202.96 103.18,201.75 105.12,201.67" fill="#ef3030"/><circle cx="113.3" cy="104.4" r="1.95" fill="none" stroke="#ef3030" stroke-width="0.6"/><path d="M112.33,104.4 h1.95" stroke="#ef3030" stroke-width="0.66"/><rect x="111.40" y="107.50" width="3.8" height="3.8" fill="none" stroke="#ef3030" stroke-width="0.6"/><polygon points="111.40,112.37 115.20,112.37 113.30,115.71" fill="none" stroke="#ef3030" stroke-width="0.6"/><circle cx="116.9" cy="176.4" r="1.95" fill="none" stroke="#ef3030" stroke-width="0.6"/><rect x="115.20" y="179.30" width="3.8" height="3.8" fill="none" stroke="#ef3030" stroke-width="0.6"/><polygon points="117.20,184.15 117.88,185.97 119.82,186.05 118.30,187.26 118.82,189.12 117.20,188.06 115.58,189.12 116.10,187.26 114.58,186.05 116.52,185.97" fill="#ef3030"/><rect x="122.00" y="191.50" width="3.8" height="3.8" fill="none" stroke="#ef3030" stroke-width="0.6"/><polygon points="121.60,200.58 126.20,200.58 123.90,196.53" fill="#ef3030"/><polygon points="123.90,200.65 124.58,202.47 126.52,202.55 125.00,203.76 125.52,205.62 123.90,204.56 122.28,205.62 122.80,203.76 121.28,202.55 123.22,202.47" fill="#ef3030"/><polygon points="131.80,190.74 136.60,190.74 134.20,194.96" fill="#ef3030"/><circle cx="134.2" cy="198.3" r="1.95" fill="none" stroke="#ef3030" stroke-width="0.6"/><path d="M133.22,198.3 h1.95" stroke="#ef3030" stroke-width="0.66"/><rect x="132.30" y="201.60" width="3.8" height="3.8" fill="none" stroke="#ef3030" stroke-width="0.6"/><polygon points="140.00,189.85 140.68,191.67 142.62,191.75 141.10,192.96 141.62,194.82 140.00,193.75 138.38,194.82 138.90,192.96 137.38,191.75 139.32,191.67" fill="#ef3030"/><polygon points="140.00,195.60 140.62,197.25 142.38,197.33 141.00,198.42 141.47,200.12 140.00,199.15 138.53,200.12 139.00,198.42 137.62,197.33 139.38,197.25" fill="none" stroke="#ef3030" stroke-width="0.6"/><polygon points="147.60,196.30 148.22,197.95 149.98,198.03 148.60,199.12 149.07,200.82 147.60,199.85 146.13,200.82 146.60,199.12 145.22,198.03 146.98,197.95" fill="none" stroke="#ef3030" stroke-width="0.6"/><rect x="148.90" y="201.30" width="3.8" height="3.8" fill="none" stroke="#ef3030" stroke-width="0.6"/><polygon points="156.00,192.65 156.68,194.47 158.62,194.55 157.10,195.76 157.62,197.62 156.00,196.56 154.38,197.62 154.90,195.76 153.38,194.55 155.32,194.47" fill="#ef3030"/><polygon points="156.00,198.50 156.62,200.15 158.38,200.23 157.00,201.32 157.47,203.02 156.00,202.05 154.53,203.02 155.00,201.32 153.62,200.23 155.38,200.15" fill="none" stroke="#ef3030" stroke-width="0.6"/><polygon points="165.40,198.90 166.02,200.55 167.78,200.63 166.40,201.72 166.87,203.42 165.40,202.45 163.93,203.42 164.40,201.72 163.02,200.63 164.78,200.55" fill="none" stroke="#ef3030" stroke-width="0.6"/><polygon points="169.90,199.74 174.70,199.74 172.30,203.96" fill="#ef3030"/><polygon points="176.80,185.85 177.48,187.67 179.42,187.75 177.90,188.96 178.42,190.82 176.80,189.75 175.18,190.82 175.70,188.96 174.18,187.75 176.12,187.67" fill="#ef3030"/><circle cx="176.8" cy="191.9" r="1.95" fill="none" stroke="#ef3030" stroke-width="0.6"/><path d="M175.83,191.9 h1.95" stroke="#ef3030" stroke-width="0.66"/><circle cx="183.1" cy="204.8" r="1.95" fill="none" stroke="#ef3030" stroke-width="0.6"/><path d="M182.12,204.8 h1.95" stroke="#ef3030" stroke-width="0.66"/><circle cx="189.55" cy="196" r="1.95" fill="none" stroke="#ef3030" stroke-width="0.6"/><path d="M188.58,196 h1.95" stroke="#ef3030" stroke-width="0.66"/><polygon points="189.55,198.90 190.17,200.55 191.93,200.63 190.55,201.72 191.02,203.42 189.55,202.45 188.08,203.42 188.55,201.72 187.17,200.63 188.93,200.55" fill="none" stroke="#ef3030" stroke-width="0.6"/><circle cx="203.4" cy="193.1" r="1.95" fill="none" stroke="#ef3030" stroke-width="0.6"/><path d="M202.43,193.1 h1.95" stroke="#ef3030" stroke-width="0.66"/><polygon points="203.40,196.50 204.02,198.15 205.78,198.23 204.40,199.32 204.87,201.02 203.40,200.05 201.93,201.02 202.40,199.32 201.02,198.23 202.78,198.15" fill="none" stroke="#ef3030" stroke-width="0.6"/><polygon points="205.10,201.04 209.90,201.04 207.50,205.26" fill="#ef3030"/><rect x="211.85" y="196.85" width="3.8" height="3.8" fill="none" stroke="#ef3030" stroke-width="0.6"/><polygon points="213.75,201.00 214.43,202.82 216.37,202.90 214.85,204.11 215.37,205.97 213.75,204.91 212.13,205.97 212.65,204.11 211.13,202.90 213.07,202.82" fill="#ef3030"/><polygon points="225.25,197.25 225.87,198.90 227.63,198.98 226.25,200.07 226.72,201.77 225.25,200.80 223.78,201.77 224.25,200.07 222.87,198.98 224.63,198.90" fill="none" stroke="#ef3030" stroke-width="0.6"/><circle cx="239.6" cy="201.25" r="1.95" fill="none" stroke="#ef3030" stroke-width="0.6"/><path d="M238.62,201.25 h1.95" stroke="#ef3030" stroke-width="0.66"/><circle cx="245.9" cy="201.5" r="1.95" fill="none" stroke="#ef3030" stroke-width="0.6"/><path d="M244.93,201.5 h1.95" stroke="#ef3030" stroke-width="0.66"/>
<polygon points="214.70,7.00 215.49,9.11 217.74,9.21 215.98,10.62 216.58,12.79 214.70,11.54 212.82,12.79 213.42,10.62 211.66,9.21 213.91,9.11" fill="none" stroke="#ef3030" stroke-width="0.7"/><polygon points="272.00,5.90 273.01,8.61 275.90,8.73 273.64,10.53 274.41,13.32 272.00,11.72 269.59,13.32 270.36,10.53 268.10,8.73 270.99,8.61" fill="#ef3030"/><rect x="211.60" y="23.40" width="5.0" height="5.0" fill="none" stroke="#ef3030" stroke-width="0.75"/><polygon points="268.20,28.52 275.00,28.52 271.60,22.54" fill="#ef3030"/><circle cx="214.4" cy="41.5" r="2.45" fill="none" stroke="#ef3030" stroke-width="0.75"/><path d="M213.18,41.5 h2.45" stroke="#ef3030" stroke-width="0.83"/><polygon points="268.20,38.28 275.00,38.28 271.60,44.26" fill="#ef3030"/><g style='font-family:"Liberation Serif",serif' font-size="9.8" fill="#111"><text x="221.6" y="13.1">Quartz</text><text x="279.2" y="13.1">Albite</text><text x="220.6" y="28.9">K-feldspar</text><text x="277.7" y="28.9">Calcite</text><text x="220.6" y="44.5">Muscovite</text><text x="277.7" y="44.5">Hematite</text></g>
<path d="M43.8,118 V222 H251.5 L316,72.5" fill="none" stroke="#222" stroke-width="1.1"/>
<path d="M40,222.00 H43.8 M40,203.66 H43.8 M40,185.32 H43.8 M40,166.98 H43.8 M40,148.64 H43.8 M40,130.30 H43.8 M57.73,222 V225.5 M85.38,222 V225.5 M113.03,222 V225.5 M140.69,222 V225.5 M168.34,222 V225.5 M195.99,222 V225.5 M223.65,222 V225.5 M251.30,222 V225.5 M252.28,208.60 H260.28 M262.51,184.90 H270.51 M272.26,162.30 H280.26 M280.50,143.20 H288.50 M288.52,124.60 H296.52 M295.77,107.80 H303.77 M302.24,92.80 H310.24 M308.24,78.90 H316.24" stroke="#222" stroke-width="1" fill="none"/>
<g style='font-family:"Liberation Serif",serif'><text transform="translate(37.60,226.70) scale(1,1.16)" font-size="11.8" text-anchor="end" fill="#111" >0</text><text transform="translate(37.60,208.36) scale(1,1.16)" font-size="11.8" text-anchor="end" fill="#111" >300</text><text transform="translate(37.60,190.02) scale(1,1.16)" font-size="11.8" text-anchor="end" fill="#111" >600</text><text transform="translate(37.60,171.68) scale(1,1.16)" font-size="11.8" text-anchor="end" fill="#111" >900</text><text transform="translate(37.60,153.34) scale(1,1.16)" font-size="11.8" text-anchor="end" fill="#111" >1200</text><text transform="translate(37.60,135.00) scale(1,1.16)" font-size="11.8" text-anchor="end" fill="#111" >1500</text><text transform="translate(57.73,239.00) scale(1,1.23)" font-size="11" text-anchor="middle" fill="#111" >10</text><text transform="translate(85.38,239.00) scale(1,1.23)" font-size="11" text-anchor="middle" fill="#111" >20</text><text transform="translate(113.03,239.00) scale(1,1.23)" font-size="11" text-anchor="middle" fill="#111" >30</text><text transform="translate(140.69,239.00) scale(1,1.23)" font-size="11" text-anchor="middle" fill="#111" >40</text><text transform="translate(168.34,239.00) scale(1,1.23)" font-size="11" text-anchor="middle" fill="#111" >50</text><text transform="translate(195.99,239.00) scale(1,1.23)" font-size="11" text-anchor="middle" fill="#111" >60</text><text transform="translate(223.65,239.00) scale(1,1.23)" font-size="11" text-anchor="middle" fill="#111" >70</text><text transform="translate(251.30,239.00) scale(1,1.23)" font-size="11" text-anchor="middle" fill="#111" >80</text><text transform="translate(262.08,213.50) scale(1,1.15)" font-size="11.5" text-anchor="start" fill="#111" >0</text><text transform="translate(272.31,189.80) scale(1,1.15)" font-size="11.5" text-anchor="start" fill="#111" >1</text><text transform="translate(282.06,167.20) scale(1,1.15)" font-size="11.5" text-anchor="start" fill="#111" >2</text><text transform="translate(290.30,148.10) scale(1,1.15)" font-size="11.5" text-anchor="start" fill="#111" >3</text><text transform="translate(298.32,129.50) scale(1,1.15)" font-size="11.5" text-anchor="start" fill="#111" >4</text><text transform="translate(305.57,112.70) scale(1,1.15)" font-size="11.5" text-anchor="start" fill="#111" >5</text><text transform="translate(312.04,97.70) scale(1,1.15)" font-size="11.5" text-anchor="start" fill="#111" >6</text><text transform="translate(318.04,83.80) scale(1,1.15)" font-size="11.5" text-anchor="start" fill="#111" >7</text></g>
<g style='font-family:"Liberation Serif",serif'><text transform="translate(147.60,252.80) scale(1,1.1)" font-size="12" text-anchor="middle" fill="#111" >2θ (degree)</text></g>
<text transform="translate(9.6,170.8) rotate(-90)" text-anchor="middle" font-size="12.2" style='font-family:"Liberation Serif",serif' fill="#111">Intensity (CPS)</text>
<text transform="translate(311.9,134.6) rotate(-70) scale(0.75,1.18)" text-anchor="middle" font-size="10.2" style='font-family:"Liberation Serif",serif' fill="#111">Cycles <tspan font-style="italic">n</tspan></text>
<text x="8.5" y="21.2" font-size="18" style='font-family:"Liberation Serif",serif' fill="#111">(a)</text>
<g><rect x="383.10" y="160.88" width="23.80" height="54.52" fill="#6b95c2" stroke="#3a3a3a" stroke-width="0.6"/><rect x="383.10" y="144.13" width="23.80" height="16.74" fill="#3d5188" stroke="#3a3a3a" stroke-width="0.6"/><rect x="383.10" y="128.21" width="23.80" height="15.93" fill="#a2a39f" stroke="#3a3a3a" stroke-width="0.6"/><rect x="383.10" y="27.33" width="23.80" height="100.87" fill="#e3241f" stroke="#3a3a3a" stroke-width="0.6"/><rect x="383.10" y="12.22" width="23.80" height="15.11" fill="#dcbc35" stroke="#3a3a3a" stroke-width="0.6"/><rect x="383.10" y="11.20" width="23.80" height="1.02" fill="#6aac4a" stroke="#3a3a3a" stroke-width="0.6"/><rect x="412.65" y="161.90" width="23.80" height="53.50" fill="#6b95c2" stroke="#3a3a3a" stroke-width="0.6"/><rect x="412.65" y="125.55" width="23.80" height="36.35" fill="#3d5188" stroke="#3a3a3a" stroke-width="0.6"/><rect x="412.65" y="109.62" width="23.80" height="15.93" fill="#a2a39f" stroke="#3a3a3a" stroke-width="0.6"/><rect x="412.65" y="22.02" width="23.80" height="87.60" fill="#e3241f" stroke="#3a3a3a" stroke-width="0.6"/><rect x="412.65" y="13.65" width="23.80" height="8.37" fill="#dcbc35" stroke="#3a3a3a" stroke-width="0.6"/><rect x="412.65" y="11.20" width="23.80" height="2.45" fill="#6aac4a" stroke="#3a3a3a" stroke-width="0.6"/><rect x="442.20" y="170.68" width="23.80" height="44.72" fill="#6b95c2" stroke="#3a3a3a" stroke-width="0.6"/><rect x="442.20" y="139.44" width="23.80" height="31.24" fill="#3d5188" stroke="#3a3a3a" stroke-width="0.6"/><rect x="442.20" y="120.45" width="23.80" height="18.99" fill="#a2a39f" stroke="#3a3a3a" stroke-width="0.6"/><rect x="442.20" y="20.80" width="23.80" height="99.65" fill="#e3241f" stroke="#3a3a3a" stroke-width="0.6"/><rect x="442.20" y="12.22" width="23.80" height="8.58" fill="#dcbc35" stroke="#3a3a3a" stroke-width="0.6"/><rect x="442.20" y="11.20" width="23.80" height="1.02" fill="#6aac4a" stroke="#3a3a3a" stroke-width="0.6"/><rect x="471.75" y="147.20" width="23.80" height="68.20" fill="#6b95c2" stroke="#3a3a3a" stroke-width="0.6"/><rect x="471.75" y="122.69" width="23.80" height="24.50" fill="#3d5188" stroke="#3a3a3a" stroke-width="0.6"/><rect x="471.75" y="111.67" width="23.80" height="11.03" fill="#a2a39f" stroke="#3a3a3a" stroke-width="0.6"/><rect x="471.75" y="16.92" width="23.80" height="94.75" fill="#e3241f" stroke="#3a3a3a" stroke-width="0.6"/><rect x="471.75" y="12.63" width="23.80" height="4.29" fill="#dcbc35" stroke="#3a3a3a" stroke-width="0.6"/><rect x="471.75" y="11.20" width="23.80" height="1.43" fill="#6aac4a" stroke="#3a3a3a" stroke-width="0.6"/><rect x="501.30" y="169.86" width="23.80" height="45.54" fill="#6b95c2" stroke="#3a3a3a" stroke-width="0.6"/><rect x="501.30" y="146.99" width="23.80" height="22.87" fill="#3d5188" stroke="#3a3a3a" stroke-width="0.6"/><rect x="501.30" y="139.85" width="23.80" height="7.15" fill="#a2a39f" stroke="#3a3a3a" stroke-width="0.6"/><rect x="501.30" y="33.66" width="23.80" height="106.18" fill="#e3241f" stroke="#3a3a3a" stroke-width="0.6"/><rect x="501.30" y="12.43" width="23.80" height="21.24" fill="#dcbc35" stroke="#3a3a3a" stroke-width="0.6"/><rect x="501.30" y="11.20" width="23.80" height="1.23" fill="#6aac4a" stroke="#3a3a3a" stroke-width="0.6"/><rect x="530.85" y="168.84" width="23.80" height="46.56" fill="#6b95c2" stroke="#3a3a3a" stroke-width="0.6"/><rect x="530.85" y="149.85" width="23.80" height="18.99" fill="#3d5188" stroke="#3a3a3a" stroke-width="0.6"/><rect x="530.85" y="131.27" width="23.80" height="18.58" fill="#a2a39f" stroke="#3a3a3a" stroke-width="0.6"/><rect x="530.85" y="25.09" width="23.80" height="106.18" fill="#e3241f" stroke="#3a3a3a" stroke-width="0.6"/><rect x="530.85" y="12.83" width="23.80" height="12.25" fill="#dcbc35" stroke="#3a3a3a" stroke-width="0.6"/><rect x="530.85" y="11.20" width="23.80" height="1.63" fill="#6aac4a" stroke="#3a3a3a" stroke-width="0.6"/><rect x="560.40" y="159.45" width="23.80" height="55.95" fill="#6b95c2" stroke="#3a3a3a" stroke-width="0.6"/><rect x="560.40" y="140.25" width="23.80" height="19.19" fill="#3d5188" stroke="#3a3a3a" stroke-width="0.6"/><rect x="560.40" y="127.19" width="23.80" height="13.07" fill="#a2a39f" stroke="#3a3a3a" stroke-width="0.6"/><rect x="560.40" y="22.84" width="23.80" height="104.35" fill="#e3241f" stroke="#3a3a3a" stroke-width="0.6"/><rect x="560.40" y="12.63" width="23.80" height="10.21" fill="#dcbc35" stroke="#3a3a3a" stroke-width="0.6"/><rect x="560.40" y="11.20" width="23.80" height="1.43" fill="#6aac4a" stroke="#3a3a3a" stroke-width="0.6"/><rect x="589.95" y="165.78" width="23.80" height="49.62" fill="#6b95c2" stroke="#3a3a3a" stroke-width="0.6"/><rect x="589.95" y="136.17" width="23.80" height="29.61" fill="#3d5188" stroke="#3a3a3a" stroke-width="0.6"/><rect x="589.95" y="128.21" width="23.80" height="7.96" fill="#a2a39f" stroke="#3a3a3a" stroke-width="0.6"/><rect x="589.95" y="25.29" width="23.80" height="102.92" fill="#e3241f" stroke="#3a3a3a" stroke-width="0.6"/><rect x="589.95" y="12.63" width="23.80" height="12.66" fill="#dcbc35" stroke="#3a3a3a" stroke-width="0.6"/><rect x="589.95" y="11.20" width="23.80" height="1.43" fill="#6aac4a" stroke="#3a3a3a" stroke-width="0.6"/></g>
<g class="bl" style='font-family:"Liberation Serif",serif'><text x="395.00" y="191.44" fill="#1a1a1a" font-size="9.5" text-anchor="middle">26.70</text><text x="395.00" y="155.81" fill="#ffffff" font-size="9.5" text-anchor="middle">8.20</text><text x="395.00" y="139.47" fill="#1a1a1a" font-size="9.5" text-anchor="middle">7.80</text><text x="395.00" y="81.07" fill="#ffffff" font-size="9.5" text-anchor="middle">49.40</text><text x="395.00" y="23.08" fill="#1a1a1a" font-size="9.5" text-anchor="middle">7.40</text><text x="424.55" y="191.95" fill="#1a1a1a" font-size="9.5" text-anchor="middle">26.20</text><text x="424.55" y="147.03" fill="#ffffff" font-size="9.5" text-anchor="middle">17.80</text><text x="424.55" y="120.89" fill="#1a1a1a" font-size="9.5" text-anchor="middle">7.80</text><text x="424.55" y="69.12" fill="#ffffff" font-size="9.5" text-anchor="middle">42.90</text><text x="424.55" y="21.14" fill="#1a1a1a" font-size="9.5" text-anchor="middle">4.10</text><text x="454.10" y="196.34" fill="#1a1a1a" font-size="9.5" text-anchor="middle">21.90</text><text x="454.10" y="158.36" fill="#ffffff" font-size="9.5" text-anchor="middle">15.30</text><text x="454.10" y="133.24" fill="#1a1a1a" font-size="9.5" text-anchor="middle">9.30</text><text x="454.10" y="73.92" fill="#ffffff" font-size="9.5" text-anchor="middle">48.80</text><text x="454.10" y="19.81" fill="#1a1a1a" font-size="9.5" text-anchor="middle">4.20</text><text x="483.65" y="184.60" fill="#1a1a1a" font-size="9.5" text-anchor="middle">33.40</text><text x="483.65" y="138.25" fill="#ffffff" font-size="9.5" text-anchor="middle">12.00</text><text x="483.65" y="120.48" fill="#1a1a1a" font-size="9.5" text-anchor="middle">5.40</text><text x="483.65" y="67.59" fill="#ffffff" font-size="9.5" text-anchor="middle">46.40</text><text x="483.65" y="18.07" fill="#1a1a1a" font-size="9.5" text-anchor="middle">2.10</text><text x="513.20" y="195.93" fill="#1a1a1a" font-size="9.5" text-anchor="middle">22.30</text><text x="513.20" y="161.73" fill="#ffffff" font-size="9.5" text-anchor="middle">11.20</text><text x="513.20" y="146.72" fill="#1a1a1a" font-size="9.5" text-anchor="middle">3.50</text><text x="513.20" y="90.05" fill="#ffffff" font-size="9.5" text-anchor="middle">52.00</text><text x="513.20" y="26.34" fill="#1a1a1a" font-size="9.5" text-anchor="middle">10.40</text><text x="542.75" y="195.42" fill="#1a1a1a" font-size="9.5" text-anchor="middle">22.80</text><text x="542.75" y="162.65" fill="#ffffff" font-size="9.5" text-anchor="middle">9.30</text><text x="542.75" y="143.86" fill="#1a1a1a" font-size="9.5" text-anchor="middle">9.10</text><text x="542.75" y="81.48" fill="#ffffff" font-size="9.5" text-anchor="middle">52.00</text><text x="542.75" y="22.26" fill="#1a1a1a" font-size="9.5" text-anchor="middle">6.00</text><text x="572.30" y="190.72" fill="#1a1a1a" font-size="9.5" text-anchor="middle">27.40</text><text x="572.30" y="153.15" fill="#ffffff" font-size="9.5" text-anchor="middle">9.40</text><text x="572.30" y="137.02" fill="#1a1a1a" font-size="9.5" text-anchor="middle">6.40</text><text x="572.30" y="78.31" fill="#ffffff" font-size="9.5" text-anchor="middle">51.10</text><text x="572.30" y="21.03" fill="#1a1a1a" font-size="9.5" text-anchor="middle">5.00</text><text x="601.85" y="193.89" fill="#1a1a1a" font-size="9.5" text-anchor="middle">24.30</text><text x="601.85" y="154.27" fill="#ffffff" font-size="9.5" text-anchor="middle">14.50</text><text x="601.85" y="135.49" fill="#1a1a1a" font-size="9.5" text-anchor="middle">3.90</text><text x="601.85" y="80.05" fill="#ffffff" font-size="9.5" text-anchor="middle">50.40</text><text x="601.85" y="22.26" fill="#1a1a1a" font-size="9.5" text-anchor="middle">6.20</text></g>
<path d="M371.4,11.2 V215.4 H613.9" fill="none" stroke="#222" stroke-width="1"/>
<path d="M367.4,215.40 H371.4 M368.9,194.98 H371.4 M367.4,174.56 H371.4 M368.9,154.14 H371.4 M367.4,133.72 H371.4 M368.9,113.30 H371.4 M367.4,92.88 H371.4 M368.9,72.46 H371.4 M367.4,52.04 H371.4 M368.9,31.62 H371.4 M367.4,11.20 H371.4 M395.00,215.4 v4 M424.55,215.4 v4 M454.10,215.4 v4 M483.65,215.4 v4 M513.20,215.4 v4 M542.75,215.4 v4 M572.30,215.4 v4 M601.85,215.4 v4" stroke="#222" stroke-width="1" fill="none"/>
<g style='font-family:"Liberation Serif",serif'><text transform="translate(365.20,219.20) scale(1,1.16)" font-size="12.2" text-anchor="end" fill="#111" >0</text><text transform="translate(365.20,178.36) scale(1,1.16)" font-size="12.2" text-anchor="end" fill="#111" >20</text><text transform="translate(365.20,137.52) scale(1,1.16)" font-size="12.2" text-anchor="end" fill="#111" >40</text><text transform="translate(365.20,96.68) scale(1,1.16)" font-size="12.2" text-anchor="end" fill="#111" >60</text><text transform="translate(365.20,55.84) scale(1,1.16)" font-size="12.2" text-anchor="end" fill="#111" >80</text><text transform="translate(365.20,15.00) scale(1,1.16)" font-size="12.2" text-anchor="end" fill="#111" >100</text><text transform="translate(394.10,231.50) scale(1,1.155)" font-size="12.7" text-anchor="middle" fill="#111" >0</text><text transform="translate(423.65,231.50) scale(1,1.155)" font-size="12.7" text-anchor="middle" fill="#111" >1</text><text transform="translate(453.20,231.50) scale(1,1.155)" font-size="12.7" text-anchor="middle" fill="#111" >2</text><text transform="translate(482.75,231.50) scale(1,1.155)" font-size="12.7" text-anchor="middle" fill="#111" >3</text><text transform="translate(512.30,231.50) scale(1,1.155)" font-size="12.7" text-anchor="middle" fill="#111" >4</text><text transform="translate(541.85,231.50) scale(1,1.155)" font-size="12.7" text-anchor="middle" fill="#111" >5</text><text transform="translate(571.40,231.50) scale(1,1.155)" font-size="12.7" text-anchor="middle" fill="#111" >6</text><text transform="translate(600.95,231.50) scale(1,1.155)" font-size="12.7" text-anchor="middle" fill="#111" >7</text></g>
<g style='font-family:"Liberation Serif",serif'><text transform="translate(497.50,247.80) scale(1,1.1)" font-size="12.5" text-anchor="middle" fill="#111" >Cycles <tspan font-style="italic">n</tspan></text></g>
<text transform="translate(341.3,112.6) rotate(-90)" text-anchor="middle" font-size="12.3" style='font-family:"Liberation Serif",serif' fill="#111">Content(%)</text>
<text x="321.5" y="15.5" font-size="18" style='font-family:"Liberation Serif",serif' fill="#111">(b)</text>
<g style='font-family:"Liberation Serif",serif' font-size="10.7" fill="#111"><rect x="621.6" y="8.20" width="14" height="11.6" fill="#6aac4a" stroke="#333" stroke-width="0.8"/><text x="638.6" y="17.70">Hematite</text><rect x="621.6" y="47.20" width="14" height="11.6" fill="#dcbc35" stroke="#333" stroke-width="0.8"/><text x="638.6" y="56.70">K-feldspar</text><rect x="621.6" y="86.20" width="14" height="11.6" fill="#e3241f" stroke="#333" stroke-width="0.8"/><text x="638.6" y="95.70">Quartz</text><rect x="621.6" y="125.20" width="14" height="11.6" fill="#a2a39f" stroke="#333" stroke-width="0.8"/><text x="638.6" y="134.70">Calcite</text><rect x="621.6" y="164.70" width="14" height="11.6" fill="#3d5188" stroke="#333" stroke-width="0.8"/><text x="638.6" y="174.20">Muscovite</text><rect x="621.6" y="204.00" width="14" height="11.6" fill="#6b95c2" stroke="#333" stroke-width="0.8"/><text x="638.6" y="213.50">Albite</text></g></svg></body></html>
